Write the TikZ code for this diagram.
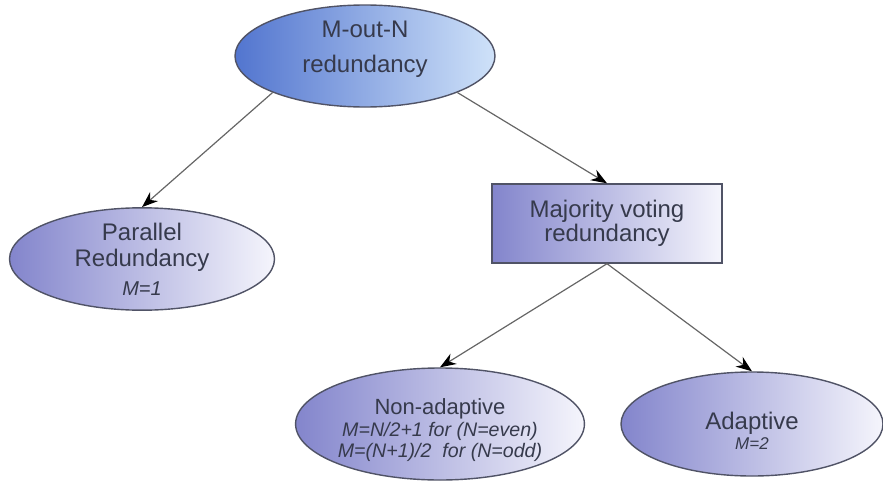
\documentclass[tikz,border=0pt]{standalone}
\usepackage{fontspec}
\setmainfont{Liberation Sans}
\usepackage{tikz}
\usetikzlibrary{shapes.geometric, arrows.meta, positioning}
\definecolor{rootdark}{HTML}{5275CF}
\definecolor{rootlight}{HTML}{CFE2F9}
\definecolor{lilac}{HTML}{8385CC}
\definecolor{paper}{HTML}{F5F5FC}
\definecolor{ink}{HTML}{363A4C}
\definecolor{rim}{HTML}{505366}
\tikzstyle{oval}=[ellipse, draw=rim, line width=0.7pt, inner sep=0pt, align=center, text=ink, left color=lilac, right color=paper]
\tikzstyle{rootoval}=[oval, left color=rootdark, right color=rootlight]
\tikzstyle{voterbox}=[rectangle, draw=rim, line width=0.7pt, inner sep=0pt, align=center, text=ink, left color=lilac, right color=paper]
\tikzstyle{post}=[-{Stealth[length=8pt,width=6pt,color=black,fill=black]}, color=black!60, line width=0.6pt]
\newcommand{\mval}[1]{{\fontsize{10}{11}\selectfont\itshape #1}}

\begin{document}
\begin{tikzpicture}[
    auto,
    font=\fontsize{12}{13}\selectfont
    ]
    \useasboundingbox (0,0) rectangle (441.5pt,-243.5pt);
    \node[rootoval, minimum width=130pt, minimum height=51pt, text depth=9pt] (mn) at (182.5pt,-28pt) {M-out-N\\[4.5pt]redundancy};
    \node[oval, minimum width=132.5pt, minimum height=49pt] (par) [below of=mn, node distance=101.5pt, xshift=-111.5pt] {Parallel\\Redundancy\\[1.5pt]\mval{M=1}};
    \node[voterbox, minimum width=115pt, minimum height=39.5pt] (maj) [below of=mn, node distance=83.75pt, xshift=121pt] {Majority voting\\[-1pt]redundancy};
    \node[oval, minimum width=135pt, minimum height=56pt, font=\fontsize{11}{11}\selectfont] (non) [below of=maj, node distance=100.25pt, xshift=-83.5pt] {\rule{0pt}{14pt}Non-adaptive\\{\fontsize{9.8}{10}\selectfont\itshape M=N/2+1 for (N=even)}\\[-0.5pt]{\fontsize{9.8}{10}\selectfont\itshape M=(N+1)/2\ \ for (N=odd)}};
    \node[oval, minimum width=131pt, minimum height=52pt] (ada) [right of=non, node distance=156pt] {\rule{0pt}{15pt}Adaptive\\[-3pt]{\fontsize{8.5}{10}\selectfont\itshape M=2}};
    \path[post]
    (mn.south west) edge (par.north)
    (mn.south east) edge (maj.north)
    (maj.south) edge (non.north)
    (maj.south) edge (ada.north)
    ;
\end{tikzpicture}
\end{document}
